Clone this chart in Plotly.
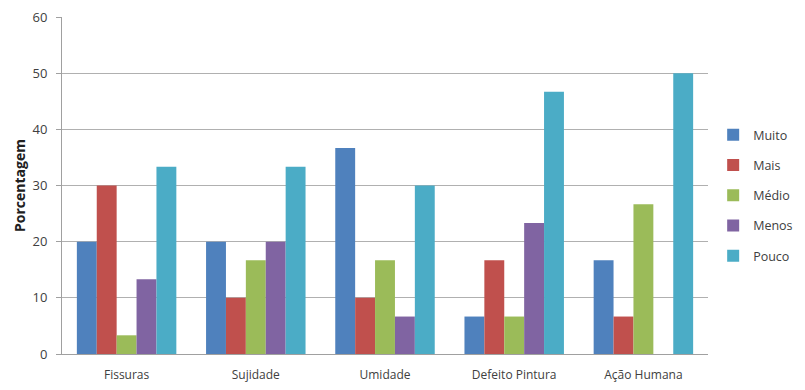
import plotly.graph_objects as go

categories = ["Fissuras", "Sujidade", "Umidade", "Defeito Pintura", "Ação Humana"]
muito = [20, 20, 36.67, 6.67, 16.67]
mais = [30, 10, 10, 16.67, 6.67]
medio = [3.33, 16.67, 16.67, 6.67, 26.67]
menos = [13.33, 20, 6.67, 23.33, 0]
pouco = [33.33, 33.33, 30, 46.67, 50]

series = [("Muito", muito, "#4F81BD"), ("Mais", mais, "#C0504D"),
          ("Médio", medio, "#9BBB59"), ("Menos", menos, "#8064A2"),
          ("Pouco", pouco, "#4BACC6")]

fig = go.Figure()
for name, vals, col in series:
    fig.add_trace(go.Bar(x=categories, y=vals, name=name, legendgroup=name,
                         marker=dict(color=col, line=dict(width=0))))

fig.update_layout(
    width=805, height=390,
    margin=dict(l=62, r=97, t=17, b=36, autoexpand=False),
    paper_bgcolor="white", plot_bgcolor="white",
    barmode="group", bargap=0.23, bargroupgap=0,
    font=dict(family="Open Sans, Liberation Sans, sans-serif", size=12, color="#404040"),
    showlegend=True,
    legend=dict(x=1.008, y=0.47, yanchor="middle", xanchor="left",
                font=dict(size=12.5, color="#404040"), tracegroupgap=11, itemwidth=30),
    yaxis=dict(range=[0, 60], dtick=10, showgrid=True, gridcolor="#b0b0b0", gridwidth=1,
               showline=True, linecolor="#a0a0a0", ticks="outside", ticklen=5, tickcolor="#a0a0a0",
               tickfont=dict(size=13, color="#404040"), automargin=False, ticklabelstandoff=6,
               title=dict(text="<b>Porcentagem</b>", font=dict(size=14, color="#202020"), standoff=3),
               zeroline=False),
    xaxis=dict(showline=True, linecolor="#a0a0a0", ticks="", automargin=False, ticklabelstandoff=10,
               tickfont=dict(size=12, color="#404040")),
)

fig.write_html("out.html", post_script="document.body.style.margin='0';",
               config={"displayModeBar": False})
